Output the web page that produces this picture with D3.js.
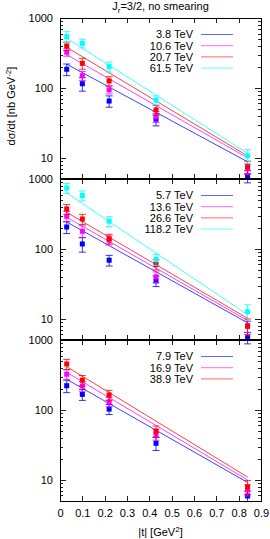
<!DOCTYPE html>
<html>
<head>
<meta charset="utf-8">
<script src="https://cdn.jsdelivr.net/npm/d3@7"></script>
<style>
  body { margin: 0; background: #fff; }
  svg { display: block; font-family: "Liberation Sans", Arial, sans-serif; }
</style>
</head>
<body>
<svg width="270" height="539"></svg>
<script>
// |t| positions of the measured points
var tVals = [0.03, 0.1, 0.22, 0.43, 0.84];
// fit lines run between these two |t| values
var fitRange = [0.03, 0.84];
var colours = ["#0000ff", "#ff00ff", "#ff0000", "#00ffff"];
var yMajor = [10, 100, 1000];

// panel 1
var p1Labels = ["3.8 TeV", "10.6 TeV", "20.7 TeV", "61.5 TeV"];
var p1Values = [
  [185, 115, 65, 35.7, 5.5],
  [324, 150, 94, 39, 7.0],
  [398, 225, 126, 48.5, 7.5],
  [541, 435, 202, 67, 10.7]
];
var p1Errors = [
  [35, 25, 12, 7, 1.1],
  [40, 22, 12, 7, 1.2],
  [55, 40, 19, 8, 1.5],
  [97, 62, 33, 10, 2.4]
];
var p1Fit = [[219, 8.8], [300, 10.0], [381, 10.7], [513, 11.6]];

// panel 2
var p2Labels = ["5.7 TeV", "13.6 TeV", "26.6 TeV", "118.2 TeV"];
var p2Values = [
  [206, 118, 69, 35, 5.4],
  [293, 179, 134, 40, 7.8],
  [373, 268, 140, 60, 8.0],
  [744, 580, 249, 71, 12.7]
];
var p2Errors = [
  [40, 28, 12, 6, 1.0],
  [50, 35, 20, 7, 1.4],
  [60, 45, 22, 10, 2.0],
  [120, 95, 40, 13, 3.2]
];
var p2Fit = [[243, 8.8], [284, 9.5], [334, 10.2], [631, 11.5]];

// panel 3
var p3Labels = ["7.9 TeV", "16.9 TeV", "38.9 TeV"];
var p3Values = [
  [222, 167, 103, 33.4, 5.9],
  [324, 220, 131, 45, 7.2],
  [454, 266, 164, 50, 8.0]
];
var p3Errors = [
  [45, 30, 17, 7, 1.0],
  [50, 35, 20, 8, 1.3],
  [75, 45, 27, 9, 1.8]
];
var p3Fit = [[274, 9.2], [345, 10.0], [416, 11.0]];

var panels = [
  {top: 18, labels: p1Labels, values: p1Values, errors: p1Errors, fit: p1Fit},
  {top: 179, labels: p2Labels, values: p2Values, errors: p2Errors, fit: p2Fit},
  {top: 340, labels: p3Labels, values: p3Values, errors: p3Errors, fit: p3Fit, xLabels: true}
];

var svg = d3.select("svg");
var left = 60, right = 261, panelH = 161;
var x = d3.scaleLinear().domain([0, 0.9]).range([left, right]);
var xTicks = d3.ticks(0, 0.9, 9);

panels.forEach(function(p) {
  var y = d3.scaleLog().domain([5, 1000]).range([p.top + panelH, p.top]);
  var minor = y.ticks().filter(function(d) { return yMajor.indexOf(d) < 0; });
  var g = svg.append("g");

  // ticks, all pointing inward
  var axes = [
    [d3.axisLeft(y).tickValues(yMajor).tickSize(-6).tickPadding(7).tickFormat(d3.format("d")), left, 0],
    [d3.axisLeft(y).tickValues(minor).tickSize(-3).tickFormat(""), left, 0],
    [d3.axisRight(y).tickValues(yMajor).tickSize(-6).tickFormat(""), right, 0],
    [d3.axisRight(y).tickValues(minor).tickSize(-3).tickFormat(""), right, 0],
    [d3.axisTop(x).tickValues(xTicks).tickSize(-5).tickFormat(""), 0, p.top],
    [d3.axisBottom(x).tickValues(xTicks).tickSize(-5).tickPadding(8)
        .tickFormat(p.xLabels ? function(d) { return String(d); } : ""), 0, p.top + panelH]
  ];
  axes.forEach(function(a) {
    var ax = g.append("g")
      .attr("transform", "translate(" + a[1] + "," + a[2] + ")")
      .call(a[0]);
    ax.select(".domain").remove();
    ax.selectAll("line").attr("stroke", "#222").attr("shape-rendering", "crispEdges");
    ax.selectAll("text").attr("font-size", "11px").attr("fill", "#000")
      .attr("font-family", "'Liberation Sans', Arial, sans-serif");
  });

  // fit lines
  g.append("g").selectAll("line")
    .data(p.fit)
    .enter().append("line")
    .attr("x1", x(fitRange[0]))
    .attr("x2", x(fitRange[1]))
    .attr("y1", function(d) { return y(d[0]); })
    .attr("y2", function(d) { return y(d[1]); })
    .attr("stroke", function(d, i) { return colours[i]; })
    .attr("stroke-opacity", 0.75)
    .attr("stroke-width", 1);

  // points with error bars
  p.values.forEach(function(vals, si) {
    var pts = vals.map(function(v, i) { return {t: tVals[i], v: v, e: p.errors[si][i]}; });
    var s = g.append("g").attr("stroke", colours[si]).attr("fill", colours[si]);
    s.selectAll("line.bar").data(pts).enter().append("line")
      .attr("class", "bar")
      .attr("x1", function(d) { return x(d.t); })
      .attr("x2", function(d) { return x(d.t); })
      .attr("y1", function(d) { return y(d.v - d.e); })
      .attr("y2", function(d) { return y(d.v + d.e); })
      .attr("stroke-opacity", 0.8);
    [-1, 1].forEach(function(k) {
      s.selectAll("line.cap" + k).data(pts).enter().append("line")
        .attr("class", "cap" + k)
        .attr("x1", function(d) { return x(d.t) - 3.5; })
        .attr("x2", function(d) { return x(d.t) + 3.5; })
        .attr("y1", function(d) { return y(d.v + k * d.e); })
        .attr("y2", function(d) { return y(d.v + k * d.e); })
        .attr("stroke-opacity", 0.8);
    });
    s.selectAll("rect").data(pts).enter().append("rect")
      .attr("x", function(d) { return x(d.t) - 2.5; })
      .attr("y", function(d) { return y(d.v) - 2.5; })
      .attr("width", 5)
      .attr("height", 5)
      .attr("stroke", "none");
  });

  // legend
  var leg = g.append("g").selectAll("g")
    .data(p.labels)
    .enter().append("g")
    .attr("transform", function(d, i) { return "translate(0," + (p.top + 16.5 + i * 11.2) + ")"; });
  leg.append("text")
    .attr("x", 193)
    .attr("dy", "0.35em")
    .attr("text-anchor", "end")
    .attr("font-size", "11px")
    .text(function(d) { return d; });
  leg.append("line")
    .attr("x1", 201).attr("x2", 233)
    .attr("stroke", function(d, i) { return colours[i]; })
    .attr("stroke-opacity", 0.6);

  // frame
  g.append("rect")
    .attr("x", left + 0.5)
    .attr("y", p.top + 0.5)
    .attr("width", right - left)
    .attr("height", panelH)
    .attr("fill", "none")
    .attr("stroke", "#000")
    .attr("stroke-width", 1);
});

// thicker seams between panels
[179, 340].forEach(function(yy) {
  svg.append("line")
    .attr("x1", left).attr("x2", right + 1)
    .attr("y1", yy).attr("y2", yy)
    .attr("stroke", "#000").attr("stroke-width", 2);
});

// title
var title = svg.append("text")
  .attr("x", 160.5).attr("y", 10)
  .attr("text-anchor", "middle")
  .attr("font-size", "11px");
title.append("tspan").text("J");
title.append("tspan").attr("dy", 3).attr("font-size", "8px").text("r");
title.append("tspan").attr("dy", -3).text("=3/2, no smearing");

// y label
var ylab = svg.append("text")
  .attr("transform", "translate(15,106) rotate(-90)")
  .attr("text-anchor", "middle")
  .attr("font-size", "11px");
ylab.append("tspan").text("d\u03c3/dt [nb GeV");
ylab.append("tspan").attr("dy", -4).attr("font-size", "8px").text("-2");
ylab.append("tspan").attr("dy", 4).text("]");

// x label
var xlab = svg.append("text")
  .attr("x", 160.5).attr("y", 536)
  .attr("text-anchor", "middle")
  .attr("font-size", "11px");
xlab.append("tspan").text("|t| [GeV");
xlab.append("tspan").attr("dy", -4).attr("font-size", "8px").text("2");
xlab.append("tspan").attr("dy", 4).text("]");
</script>
</body>
</html>
